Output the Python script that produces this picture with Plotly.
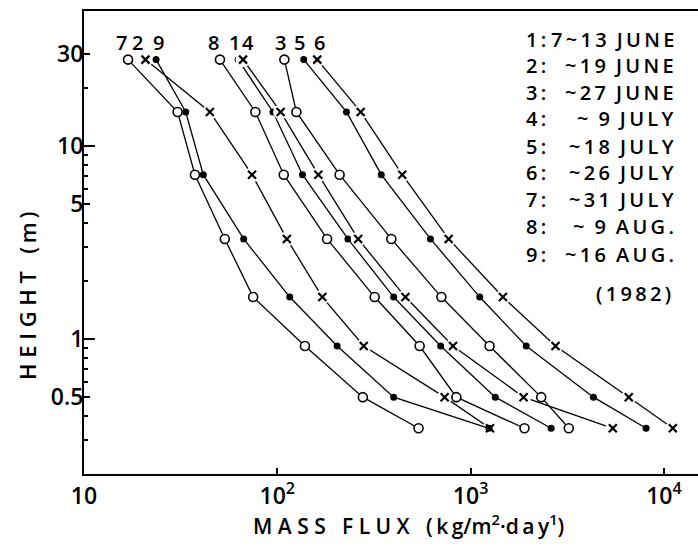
import math
import plotly.graph_objects as go

# heights (m) of the measuring levels
heights = [28, 15, 7.1, 3.3, 1.65, 0.92, 0.5, 0.345]

# mass flux (kg/m2/day) per period, top to bottom
s1 = [62.7, 95, 135, 232, 400, 700, 1342, 2610]
s2 = [20.8, 44.8, 74, 112, 171, 280, 734, 1260]
s3 = [108.8, 125.5, 210, 389, 706, 1254, 2318, 3220]
s4 = [66.5, 104, 163, 262, 460, 811, 1880, 5440]
s5 = [137, 228, 345, 620, 1115, 1940, 4320, 8090]
s6 = [161, 270, 443, 770, 1470, 2750, 6580, 11120]
s7 = [16.9, 30.5, 37.5, 53.5, 75, 139, 277, 538]
s8 = [50.5, 77, 108, 181, 319, 545, 844, 1900]
s9 = [23.6, 33.6, 41.4, 67, 116, 204, 400, 1245]

series = {"1": s1, "2": s2, "3": s3, "4": s4, "5": s5,
          "6": s6, "7": s7, "8": s8, "9": s9}
marker_kind = {"1": "filled", "2": "x", "3": "open", "4": "x", "5": "filled",
               "6": "x", "7": "open", "8": "open", "9": "filled"}

legend_nums = ["1:", "2:", "3:", "4:", "5:", "6:", "7:", "8:", "9:"]
legend_dates = ["7~13 JUNE", "~19 JUNE", "~27 JUNE", "~ 9 JULY", "~18 JULY",
                "~26 JULY", "~31 JULY", "~ 9 AUG.", "~16 AUG."]
year_text = "(1982)"

x_ticks = [10, 100, 1000, 10000]
x_ticktext = ["10", "10<sup>2</sup>", "10<sup>3</sup>", "10<sup>4</sup>"]
y_ticks = [0.5, 1, 5, 10, 30]
y_ticktext = ["0.5", "1", "5", "10", "30"]
y_minor = [0.3, 0.4, 0.6, 0.7, 0.8, 0.9, 2, 3, 4, 6, 7, 8, 9, 20]
y_long = [1, 10]

FONT = "Open Sans"
WT = 600
W, H = 698, 547
ML, MR, MT, MB = 84, 0, 11, 73
DEC = 193.3
x_lo = 1.0
x_hi = 1.0 + (W - ML - MR) / DEC
y_lo = math.log10(0.2)
y_hi = math.log10(50)

fig = go.Figure()

for name, xs in series.items():
    kind = marker_kind[name]
    fig.add_trace(go.Scatter(x=xs, y=heights, mode="lines",
                             line=dict(color="black", width=1.3),
                             showlegend=False, hoverinfo="skip"))
    if kind == "x":
        fig.add_trace(go.Scatter(x=xs, y=heights, mode="markers",
                                 marker=dict(symbol="circle", size=15, color="white",
                                             line=dict(width=0)),
                                 showlegend=False, hoverinfo="skip"))
        fig.add_trace(go.Scatter(x=xs, y=heights, mode="markers",
                                 marker=dict(symbol="x-thin", size=8,
                                             line=dict(color="black", width=2.2)),
                                 showlegend=False))
    elif kind == "open":
        fig.add_trace(go.Scatter(x=xs, y=heights, mode="markers",
                                 marker=dict(symbol="circle", size=9, color="white",
                                             line=dict(color="black", width=1.6)),
                                 showlegend=False))
    else:
        fig.add_trace(go.Scatter(x=xs, y=heights, mode="markers",
                                 marker=dict(symbol="circle", size=7, color="black",
                                             line=dict(width=0)),
                                 showlegend=False))

annotations = []
# series number labels above the top points (small horizontal nudges)
label_nudge = {"1": -4, "2": -8, "3": -4, "4": 5, "5": -4,
               "6": 2, "7": -7, "8": -6, "9": 2}
for name, xs in series.items():
    annotations.append(dict(x=math.log10(xs[0]), y=math.log10(heights[0]),
                            xref="x", yref="y", text=name, showarrow=False,
                            xshift=label_nudge[name], yshift=17,
                            font=dict(family=FONT, size=20, color="black", weight=WT)))

legend_y = [39.3, 65.5, 92, 118.7, 146, 172.7, 199.5, 226.5, 254]
plot_w = W - ML - MR
plot_h = H - MT - MB


def px_to_paper_x(px):
    return (px - ML) / plot_w


def px_to_paper_y(py):
    return 1 - (py - MT) / plot_h


ths = "\u2009"
wordgap = "\u2002"


def spaced(s):
    # letter spacing like the hand lettering of the original
    words = s.split(" ")
    return wordgap.join(ths.join(list(w)) for w in words)


for num, date, yy in zip(legend_nums, legend_dates, legend_y):
    annotations.append(dict(x=px_to_paper_x(524), y=px_to_paper_y(yy),
                            xref="paper", yref="paper", text=ths.join(list(num)),
                            showarrow=False, xanchor="left", yanchor="middle",
                            font=dict(family=FONT, size=20, color="black", weight=WT)))
    annotations.append(dict(x=px_to_paper_x(676), y=px_to_paper_y(yy),
                            xref="paper", yref="paper", text=spaced(date), showarrow=False,
                            xanchor="right", yanchor="middle",
                            font=dict(family=FONT, size=20, color="black", weight=WT)))
annotations.append(dict(x=px_to_paper_x(633), y=px_to_paper_y(293),
                        xref="paper", yref="paper", text=spaced(year_text),
                        showarrow=False, xanchor="center", yanchor="middle",
                        font=dict(family=FONT, size=20, color="black", weight=WT)))

sp = "\u00a0"
xtitle = ("M" + sp + "A" + sp + "S" + sp + "S" + sp * 3 + "F" + sp + "L" + sp + "U" + sp + "X"
          + sp * 3 + "(" + ths + "k" + ths + "g" + "/" + "m<sup>2</sup>" + "·" + "d" + ths + "a"
          + ths + "y<sup>1</sup>" + ")")
ytitle = ("H" + sp + "E" + sp + "I" + sp + "G" + sp + "H" + sp + "T" + sp * 3
          + "(" + ths + "m" + ths + ")")

annotations.append(dict(x=px_to_paper_x(408), y=px_to_paper_y(524),
                        xref="paper", yref="paper", text=xtitle, showarrow=False,
                        xanchor="center", yanchor="middle",
                        font=dict(family=FONT, size=21, color="black", weight=WT)))
annotations.append(dict(x=px_to_paper_x(27), y=px_to_paper_y(296),
                        xref="paper", yref="paper", text=ytitle, showarrow=False,
                        xanchor="center", yanchor="middle", textangle=-90,
                        font=dict(family=FONT, size=22, color="black", weight=WT)))

fig.update_layout(
    width=W, height=H,
    margin=dict(l=ML, r=MR, t=MT, b=MB),
    paper_bgcolor="white", plot_bgcolor="white",
    showlegend=False,
    annotations=annotations,
    xaxis=dict(type="log", range=[x_lo, x_hi], showgrid=False, zeroline=False,
               showline=True, linecolor="black", linewidth=2, mirror=True,
               ticks="inside", ticklen=6, tickwidth=2, tickcolor="black",
               tickvals=x_ticks, ticktext=x_ticktext,
               tickfont=dict(family=FONT, size=23, color="black", weight=WT)),
    yaxis=dict(type="log", range=[y_lo, y_hi], showgrid=False, zeroline=False,
               showline=True, linecolor="black", linewidth=2, mirror=False,
               ticks="inside", ticklen=6, tickwidth=1.5, tickcolor="black",
               tickvals=y_ticks, ticktext=y_ticktext, ticklabelstandoff=-6,
               tickfont=dict(family=FONT, size=23, color="black", weight=WT),
               minor=dict(tickvals=y_minor, ticks="inside", ticklen=4,
                          tickwidth=1.5, tickcolor="black", showgrid=False)),
    yaxis2=dict(type="log", range=[y_lo, y_hi], overlaying="y", side="left",
                showgrid=False, zeroline=False, showline=False,
                ticks="inside", ticklen=11, tickwidth=1.5, tickcolor="black",
                tickvals=y_long, showticklabels=False),
)
# invisible trace to activate the overlay axis carrying the long ticks
fig.add_trace(go.Scatter(x=[s1[0]], y=[heights[0]], yaxis="y2", mode="markers",
                         marker=dict(opacity=0), showlegend=False, hoverinfo="skip"))

fig.write_html("out.html")
